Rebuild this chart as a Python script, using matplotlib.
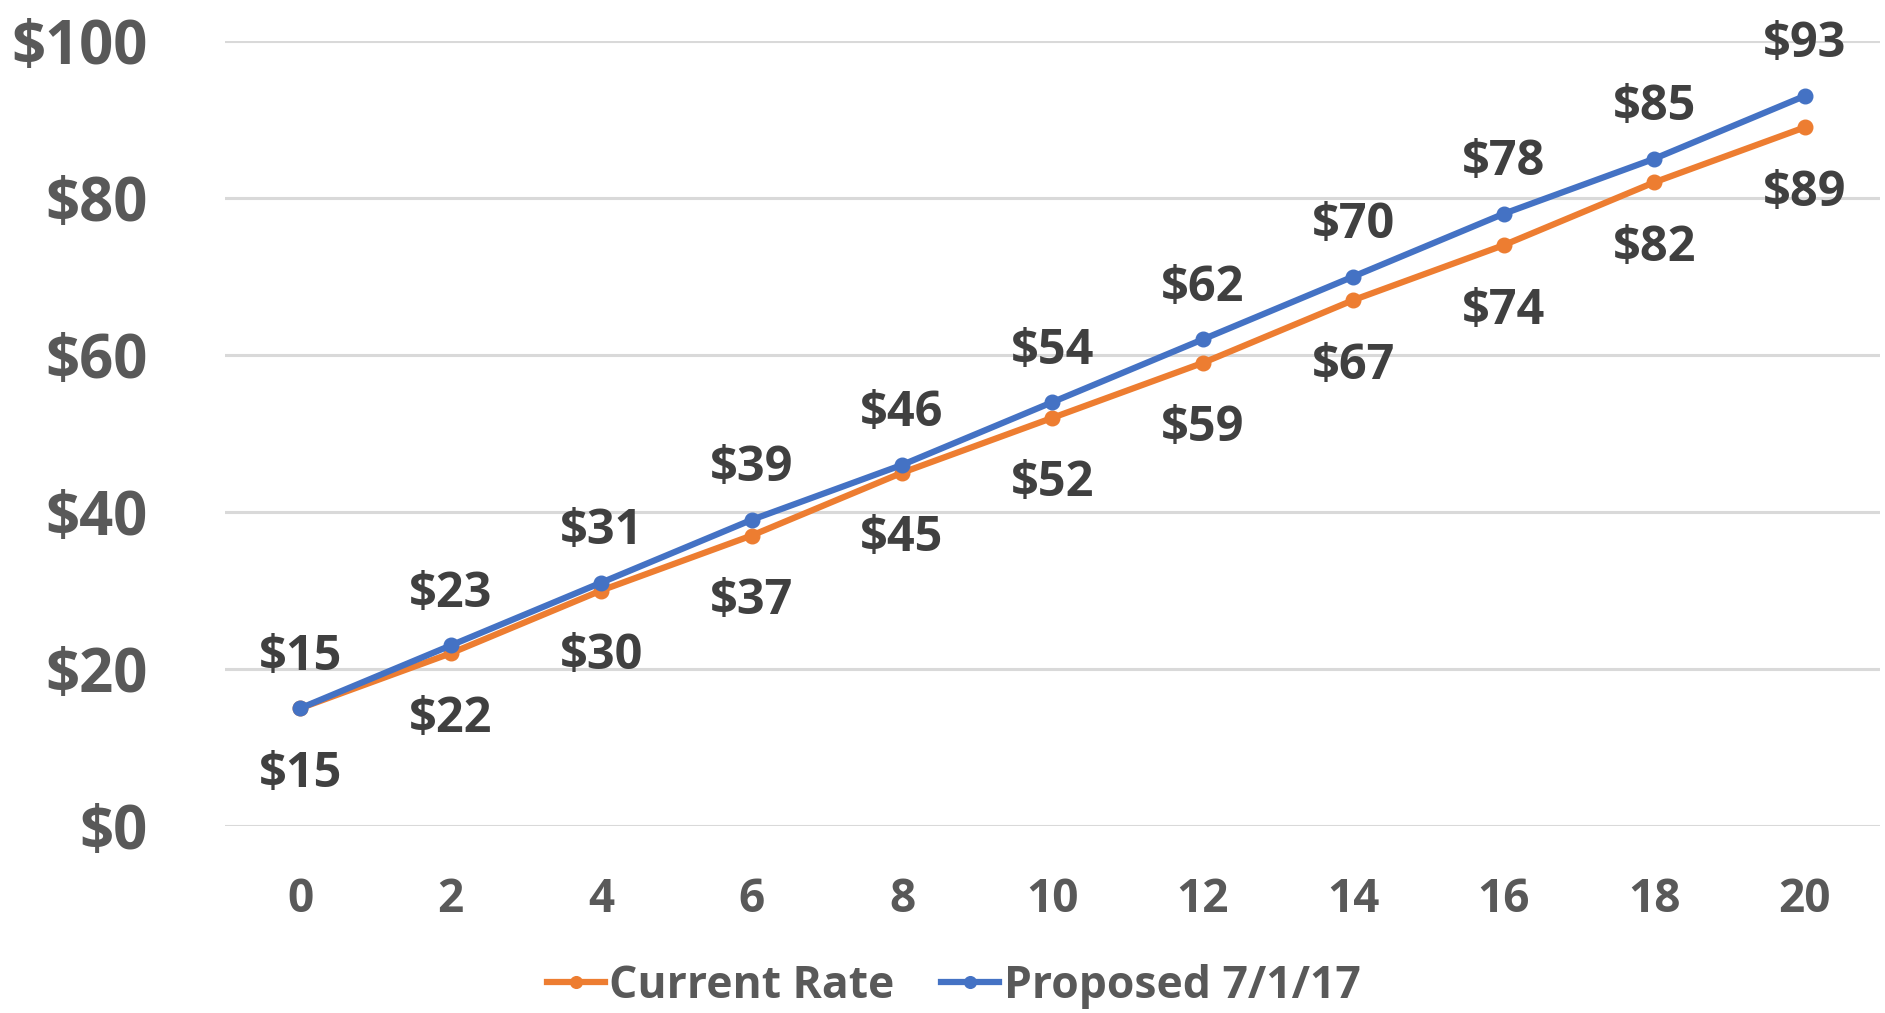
import matplotlib
matplotlib.use("Agg")
from matplotlib import pyplot as plt

# data
years = [0, 2, 4, 6, 8, 10, 12, 14, 16, 18, 20]
current_rate = [15, 22, 30, 37, 45, 52, 59, 67, 74, 82, 89]
proposed = [15, 23, 31, 39, 46, 54, 62, 70, 78, 85, 93]
y_ticks = [0, 20, 40, 60, 80, 100]

ORANGE = "#ED7D31"
BLUE = "#4472C4"
TICK_GRAY = "#595959"
LABEL_DARK = "#404040"

plt.rcParams["font.family"] = ["Open Sans", "DejaVu Sans"]
plt.rcParams["font.weight"] = "bold"

fig = plt.figure(figsize=(18.85, 10.13), dpi=100)
ax = fig.add_axes([0.1194, 0.1846, 0.8779, 0.7749])

ax.plot(years, current_rate, color=ORANGE, lw=4.5, marker="o", ms=10.5,
        label="Current Rate", zorder=3)
ax.plot(years, proposed, color=BLUE, lw=4.5, marker="o", ms=10.5,
        label="Proposed 7/1/17", zorder=4)

# data labels: proposed above, current below
for x, c, p in zip(years, current_rate, proposed):
    ax.annotate(f"${p}", (x, p), xytext=(0, 51), textcoords="offset pixels",
                ha="center", va="center", fontsize=35, color=LABEL_DARK,
                fontweight="bold")
    ax.annotate(f"${c}", (x, c), xytext=(0, -66), textcoords="offset pixels",
                ha="center", va="center", fontsize=35, color=LABEL_DARK,
                fontweight="bold")

ax.set_xlim(-1, 21)
ax.set_ylim(0, 100)
ax.set_xticks(years)
ax.set_yticks(y_ticks)
ax.set_yticklabels([f"${v}" for v in y_ticks])
ax.tick_params(axis="y", length=0, pad=56, labelsize=43, labelcolor=TICK_GRAY)
ax.tick_params(axis="x", length=0, pad=36, labelsize=33, labelcolor=TICK_GRAY)
for lab in ax.get_xticklabels() + ax.get_yticklabels():
    lab.set_fontweight("bold")

ax.grid(axis="y", color="#D9D9D9", lw=2.2)
ax.set_axisbelow(True)
for s in ax.spines.values():
    s.set_visible(False)

leg = fig.legend(*ax.get_legend_handles_labels(), loc="upper center",
                 bbox_to_anchor=(0.506, 1 - 964 / 1013), ncol=2, frameon=False,
                 fontsize=32, handlelength=1.3, handletextpad=0.1,
                 columnspacing=1.05, markerscale=0.8, borderpad=0,
                 borderaxespad=0)
for t in leg.get_texts():
    t.set_color(TICK_GRAY)
    t.set_fontweight("bold")

fig.savefig("out.png", dpi=100)
